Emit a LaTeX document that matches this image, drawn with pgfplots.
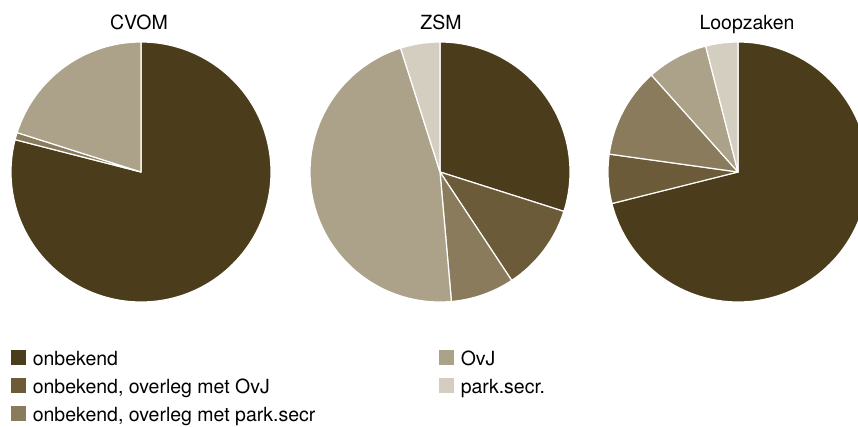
\documentclass[border=0pt]{standalone}
\usepackage{pgfplots}
\usepackage{pgfplotstable}
\pgfplotsset{compat=1.18}
\usepackage{fontspec}
\setmainfont{TeX Gyre Heros}
\definecolor{c0}{HTML}{4B3D1B}
\definecolor{c1}{HTML}{6C5B38}
\definecolor{c2}{HTML}{8A7B5C}
\definecolor{c3}{HTML}{ACA28A}
\definecolor{c4}{HTML}{D4CEC0}

% shares in percent, clockwise from 12 o'clock
\pgfplotstableread{
cat cvom zsm loop
0   79.0 29.9 71.1
1   0    10.8 6.1
2   0.9  7.9  11.2
3   20.1 46.5 7.6
4   0    4.9  4.0
}\piedata

\newcommand\drawpie[3]{%
  \xdef\cum{0}%
  \pgfplotstableforeachcolumnelement{#1}\of\piedata\as\val{%
    \ifdim\val pt>0pt
      \pgfmathsetmacro\aone{90-\cum*3.6}%
      \pgfmathsetmacro\atwo{90-(\cum+\val)*3.6}%
      \fill[c\pgfplotstablerow, draw=white, line width=1.2pt, line join=round]
        (axis cs:#2,#3) -- ++(\aone:130pt) arc[start angle=\aone, end angle=\atwo, radius=130pt] -- cycle;
      \pgfmathsetmacro\tmp{\cum+\val}%
      \xdef\cum{\tmp}%
    \fi
  }%
}
\newcommand\lefttext[1]{\makebox[413pt][l]{\hspace*{6.6pt}#1}}
\newcommand\righttext[1]{\hspace*{6.6pt}#1}

\begin{document}
\begin{tikzpicture}
\useasboundingbox (0,0) rectangle (858pt,426pt);
\clip (0,0) rectangle (858pt,426pt);
\begin{axis}[
  at={(0,0)}, anchor=south west,
  scale only axis, x=1pt, y=1pt,
  xmin=0, xmax=858, ymin=0, ymax=426,
  hide axis, clip=true,
  legend columns=2,
  legend image code/.code={\path[#1] (0pt,0pt) rectangle (15pt,15pt);},
  legend style={draw=none, fill=none, inner sep=0pt, column sep=0pt, row sep=7pt,
    nodes={inner sep=0pt, anchor=base west, text height=14pt, text depth=6pt},
    font=\fontsize{19.5}{23}\selectfont,
    at={(axis cs:11,76)}, anchor=north west},
]
\addlegendimage{fill=c0, draw=none}
\addlegendentry{\lefttext{onbekend}}
\addlegendimage{fill=c3, draw=none}
\addlegendentry{\righttext{OvJ}}
\addlegendimage{fill=c1, draw=none}
\addlegendentry{\lefttext{onbekend, overleg met OvJ}}
\addlegendimage{fill=c4, draw=none}
\addlegendentry{\righttext{park.secr.}}
\addlegendimage{fill=c2, draw=none}
\addlegendentry{\lefttext{onbekend, overleg met park.secr}}

\pgfplotsextra{\drawpie{cvom}{141}{254}}
\pgfplotsextra{\drawpie{zsm}{440}{254}}
\pgfplotsextra{\drawpie{loop}{738}{254}}

\node[anchor=base, font=\fontsize{19.5}{23}\selectfont] at (axis cs:139,396) {CVOM};
\node[anchor=base, font=\fontsize{19.5}{23}\selectfont] at (axis cs:441,396) {ZSM};
\node[anchor=base, font=\fontsize{19.5}{23}\selectfont] at (axis cs:747,396) {Loopzaken};
\end{axis}
\end{tikzpicture}
\end{document}
